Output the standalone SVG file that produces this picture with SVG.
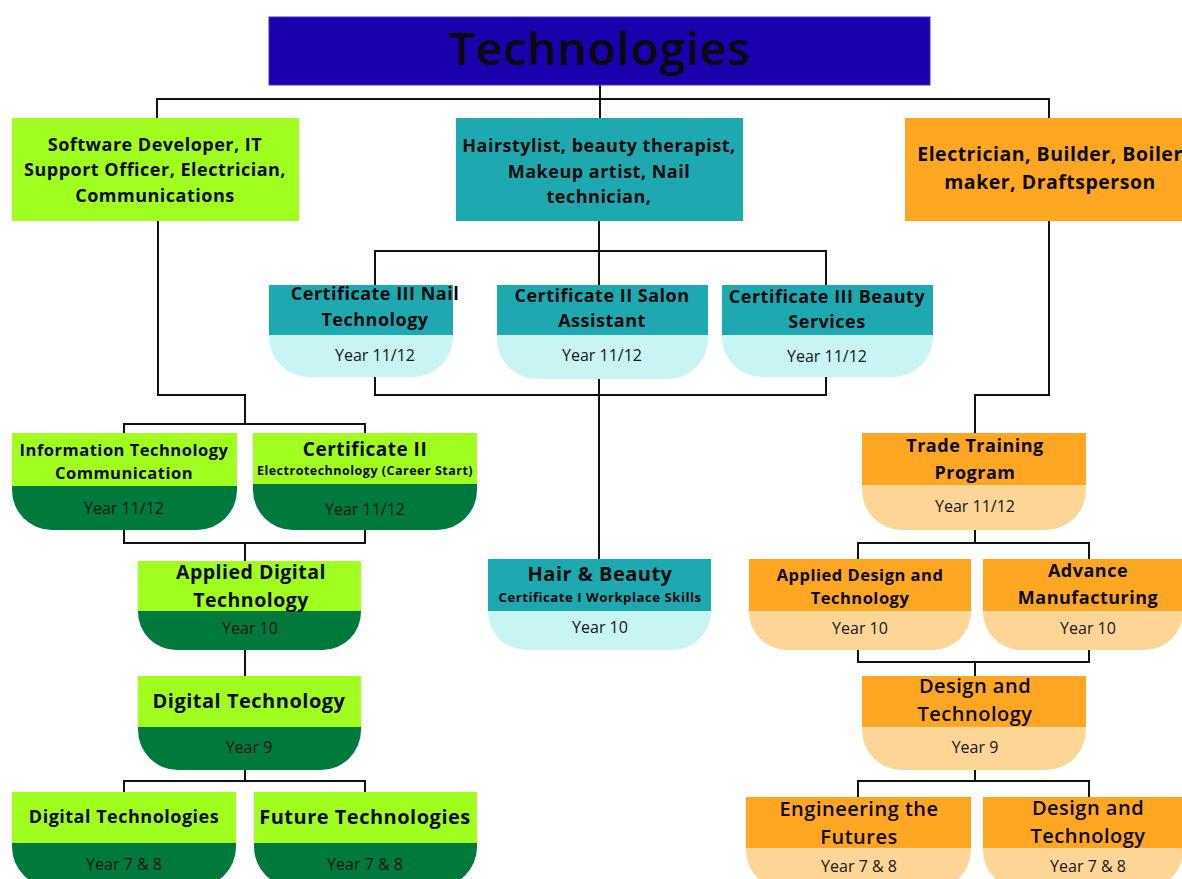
<svg xmlns="http://www.w3.org/2000/svg" width="1182" height="879" viewBox="0 0 1182 879">
<style>
text{font-family:"Open Sans","Liberation Sans",sans-serif;fill:#0a0a0a;text-anchor:middle}
.b{font-weight:700;letter-spacing:0.5px}
.m{font-weight:600;letter-spacing:0.5px}
.y{font-size:16px;font-weight:400;fill:#151515}
.lime{fill:#a0ff1f}
.dg{fill:#007a3c}
.teal{fill:#1ea9b1}
.lc{fill:#c9f4f4}
.or{fill:#ffa623}
.lo{fill:#fdd597}
#connectors path{fill:none;stroke:#111;stroke-width:2}
</style>
<rect width="1182" height="879" fill="#fff"/>
<g id="connectors">
<path d="M600,85 V118"/>
<path d="M157,118 V99 H1049 V118"/>
<path d="M158,221 V395 H245 V424"/>
<path d="M124,433 V424 H365 V433"/>
<path d="M599,221 V285"/>
<path d="M375,285 V251 H826 V285"/>
<path d="M375,377 V395 H826 V377"/>
<path d="M599,379 V559"/>
<path d="M124,530 V543 H365 V530"/>
<path d="M245,543 V561"/>
<path d="M245,650 V676"/>
<path d="M245,770 V781"/>
<path d="M124,792 V781 H365 V792"/>
<path d="M1049,221 V395 H975 V433"/>
<path d="M975,530 V543"/>
<path d="M858,559 V543 H1089 V559"/>
<path d="M858,650 V662 H1089 V650"/>
<path d="M975,662 V676"/>
<path d="M975,770 V781"/>
<path d="M858,797 V781 H1089 V797"/>
</g>

<g id="title">
<rect x="269" y="17" width="661" height="68" fill="#1a00ad" stroke="#3d2fd0" stroke-width="1"/>
<text x="600" y="65" font-weight="600" font-size="46" letter-spacing="1">Technologies</text>
</g>

<g id="careers-digital">
<rect x="12" y="118" width="287" height="103" class="lime"/>
<text x="155" y="151" class="b" font-size="18">Software Developer, IT</text>
<text x="155" y="176" class="b" font-size="18">Support Officer, Electrician,</text>
<text x="155" y="202" class="b" font-size="18">Communications</text>
</g>

<g id="careers-beauty">
<rect x="456" y="118" width="287" height="103" class="teal"/>
<text x="599" y="152" class="b" font-size="18">Hairstylist, beauty therapist,</text>
<text x="599" y="178" class="b" font-size="18">Makeup artist, Nail</text>
<text x="599" y="203" class="b" font-size="18">technician,</text>
</g>

<g id="careers-trade">
<rect x="905" y="118" width="290" height="103" class="or"/>
<text x="1050" y="161" class="b" font-size="19.5">Electrician, Builder, Boiler</text>
<text x="1050" y="189" class="b" font-size="19.5">maker, Draftsperson</text>
</g>

<g id="cert3-nail">
<rect x="269" y="285" width="184" height="50" class="teal"/>
<path d="M269,335 H453 V337 A40,40 0 0 1 413,377 H309 A40,40 0 0 1 269,337 Z" class="lc"/>
<text x="375" y="300" class="b" font-size="18">Certificate III Nail</text>
<text x="375" y="326" class="b" font-size="18">Technology</text>
<text x="375" y="361" class="y">Year 11/12</text>
</g>

<g id="cert2-salon">
<rect x="497" y="285" width="211" height="50" class="teal"/>
<path d="M497,335 H708 V339 A40,40 0 0 1 668,379 H537 A40,40 0 0 1 497,339 Z" class="lc"/>
<text x="602" y="302" class="b" font-size="18">Certificate II Salon</text>
<text x="602" y="327" class="b" font-size="18">Assistant</text>
<text x="602" y="361" class="y">Year 11/12</text>
</g>

<g id="cert3-beauty">
<rect x="722" y="285" width="211" height="50" class="teal"/>
<path d="M722,335 H933 V337 A40,40 0 0 1 893,377 H762 A40,40 0 0 1 722,337 Z" class="lc"/>
<text x="827" y="303" class="b" font-size="18">Certificate III Beauty</text>
<text x="827" y="328" class="b" font-size="18">Services</text>
<text x="827" y="362" class="y">Year 11/12</text>
</g>

<g id="it-communication">
<rect x="12" y="433" width="225" height="53" class="lime"/>
<path d="M12,486 H237 V490 A40,40 0 0 1 197,530 H52 A40,40 0 0 1 12,490 Z" class="dg"/>
<text x="124" y="456" class="b" font-size="16.5">Information Technology</text>
<text x="124" y="479" class="b" font-size="16.5">Communication</text>
<text x="124" y="514" class="y">Year 11/12</text>
</g>

<g id="cert2-electro">
<rect x="253" y="433" width="224" height="51" class="lime"/>
<path d="M253,484 H477 V490 A40,40 0 0 1 437,530 H293 A40,40 0 0 1 253,490 Z" class="dg"/>
<text x="365" y="456" class="b" font-size="19">Certificate II</text>
<text x="365" y="475" class="b" font-size="12.5" letter-spacing="0.3">Electrotechnology (Career Start)</text>
<text x="365" y="515" class="y">Year 11/12</text>
</g>

<g id="applied-digital">
<rect x="138" y="561" width="223" height="50" class="lime"/>
<path d="M138,611 H361 V612 A38,38 0 0 1 323,650 H176 A38,38 0 0 1 138,612 Z" class="dg"/>
<text x="251" y="579" class="b" font-size="19.5">Applied Digital</text>
<text x="251" y="607" class="b" font-size="19.5">Technology</text>
<text x="250" y="634" class="y">Year 10</text>
</g>

<g id="digital-technology">
<rect x="138" y="676" width="223" height="51" class="lime"/>
<path d="M138,727 H361 V730 A40,40 0 0 1 321,770 H178 A40,40 0 0 1 138,730 Z" class="dg"/>
<text x="249" y="708" class="b" font-size="20">Digital Technology</text>
<text x="249" y="753" class="y">Year 9</text>
</g>

<g id="digital-technologies">
<rect x="12" y="792" width="224" height="51" class="lime"/>
<path d="M12,843 H236 V847 A40,40 0 0 1 196,887 H52 A40,40 0 0 1 12,847 Z" class="dg"/>
<text x="124" y="823" class="b" font-size="18">Digital Technologies</text>
<text x="124" y="870" class="y">Year 7 &amp; 8</text>
</g>

<g id="future-technologies">
<rect x="254" y="792" width="223" height="51" class="lime"/>
<path d="M254,843 H477 V847 A40,40 0 0 1 437,887 H294 A40,40 0 0 1 254,847 Z" class="dg"/>
<text x="365" y="824" class="b" font-size="20">Future Technologies</text>
<text x="365" y="870" class="y">Year 7 &amp; 8</text>
</g>

<g id="hair-beauty">
<rect x="488" y="559" width="223" height="52" class="teal"/>
<path d="M488,611 H711 V612 A38,38 0 0 1 673,650 H526 A38,38 0 0 1 488,612 Z" class="lc"/>
<text x="600" y="581" class="b" font-size="20">Hair &amp; Beauty</text>
<text x="600" y="602" class="b" font-size="13.2" letter-spacing="0.4">Certificate I Workplace Skills</text>
<text x="600" y="633" class="y">Year 10</text>
</g>

<g id="trade-training">
<rect x="862" y="433" width="224" height="52" class="or"/>
<path d="M862,485 H1086 V490 A40,40 0 0 1 1046,530 H902 A40,40 0 0 1 862,490 Z" class="lo"/>
<text x="975" y="452" class="b" font-size="18">Trade Training</text>
<text x="975" y="479" class="b" font-size="18">Program</text>
<text x="975" y="512" class="y">Year 11/12</text>
</g>

<g id="applied-design">
<rect x="749" y="559" width="222" height="52" class="or"/>
<path d="M749,611 H971 V612 A38,38 0 0 1 933,650 H787 A38,38 0 0 1 749,612 Z" class="lo"/>
<text x="860" y="581" class="b" font-size="16.5">Applied Design and</text>
<text x="860" y="604" class="b" font-size="16.5">Technology</text>
<text x="860" y="634" class="y">Year 10</text>
</g>

<g id="advance-manufacturing">
<rect x="983" y="559" width="200" height="52" class="or"/>
<path d="M983,611 H1183 V612 A38,38 0 0 1 1145,650 H1021 A38,38 0 0 1 983,612 Z" class="lo"/>
<text x="1088" y="577" class="b" font-size="18">Advance</text>
<text x="1088" y="604" class="b" font-size="18">Manufacturing</text>
<text x="1088" y="634" class="y">Year 10</text>
</g>

<g id="design-tech-9">
<rect x="862" y="676" width="224" height="51" class="or"/>
<path d="M862,727 H1086 V730 A40,40 0 0 1 1046,770 H902 A40,40 0 0 1 862,730 Z" class="lo"/>
<text x="975" y="693" class="m" font-size="20">Design and</text>
<text x="975" y="721" class="m" font-size="20">Technology</text>
<text x="975" y="753" class="y">Year 9</text>
</g>

<g id="engineering-futures">
<rect x="746" y="797" width="225" height="51" class="or"/>
<path d="M746,848 H971 V850 A40,40 0 0 1 931,890 H786 A40,40 0 0 1 746,850 Z" class="lo"/>
<text x="859" y="816" class="m" font-size="20">Engineering the</text>
<text x="859" y="844" class="m" font-size="20">Futures</text>
<text x="859" y="872" class="y">Year 7 &amp; 8</text>
</g>

<g id="design-tech-78">
<rect x="983" y="797" width="200" height="51" class="or"/>
<path d="M983,848 H1183 V850 A40,40 0 0 1 1143,890 H1023 A40,40 0 0 1 983,850 Z" class="lo"/>
<text x="1088" y="815" class="m" font-size="20">Design and</text>
<text x="1088" y="843" class="m" font-size="20">Technology</text>
<text x="1088" y="872" class="y">Year 7 &amp; 8</text>
</g>
</svg>
